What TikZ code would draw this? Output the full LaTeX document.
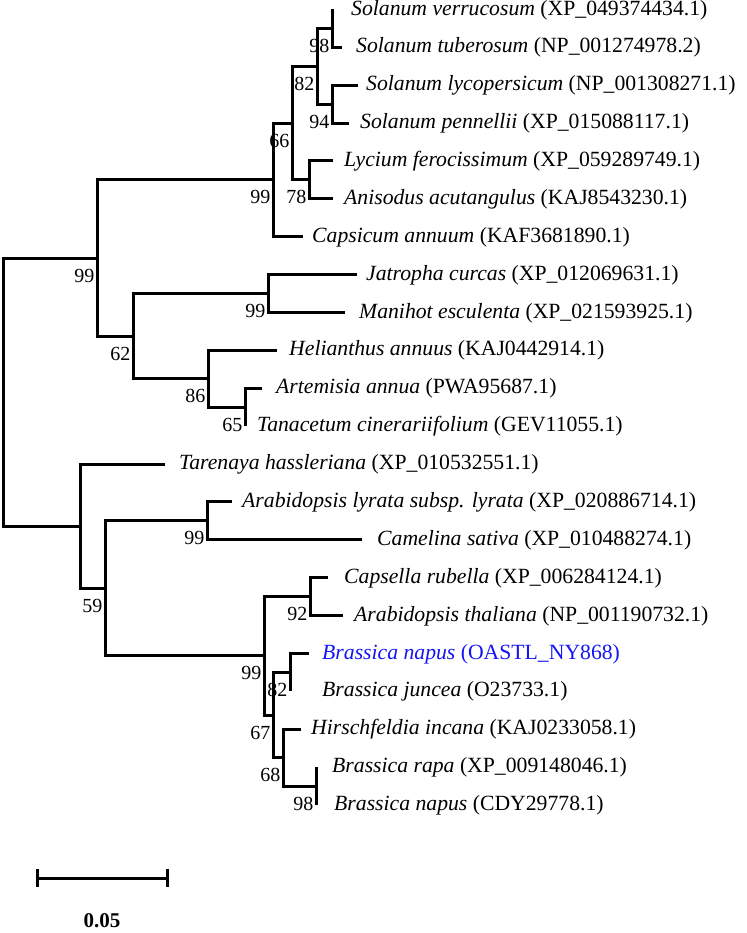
\documentclass[tikz,border=0pt]{standalone}
\usepackage{fontspec}
\setmainfont{Liberation Serif}
\definecolor{hiblue}{RGB}{20,20,245}
\begin{document}
\begin{tikzpicture}[x=1pt,y=-1pt,
  tree/.style={line width=3pt, line join=miter},
  leaf/.style={anchor=base west, inner sep=0pt, font=\fontsize{21.7}{26}\selectfont},
  boot/.style={anchor=base east, inner sep=0pt, font=\fontsize{20}{24}\selectfont},
  scalelab/.style={inner sep=0pt, font=\fontsize{21}{25}\selectfont\bfseries}]
\useasboundingbox (0,0) rectangle (746,933);
% leaf ends
\coordinate (l0) at (332,9.5);
\coordinate (l1) at (342,47.4);
\coordinate (l2) at (358,85.3);
\coordinate (l3) at (349,123.1);
\coordinate (l4) at (333,161.0);
\coordinate (l5) at (333,198.9);
\coordinate (l6) at (303,236.8);
\coordinate (l7) at (357,274.7);
\coordinate (l8) at (345,312.5);
\coordinate (l9) at (277,350.4);
\coordinate (l10) at (262,388.3);
\coordinate (l11) at (245,426.2);
\coordinate (l12) at (165,464.1);
\coordinate (l13) at (232,501.9);
\coordinate (l14) at (362,539.8);
\coordinate (l15) at (328,577.7);
\coordinate (l16) at (343,615.6);
\coordinate (l17) at (309,653.5);
\coordinate (l18) at (290,691.3);
\coordinate (l19) at (301,729.2);
\coordinate (l20) at (316,767.1);
\coordinate (l21) at (316,805.0);
% internal nodes
\coordinate (E) at (332,28.45);
\coordinate (F) at (332,104.2);
\coordinate (C) at (317,66.3);
\coordinate (D) at (309,180.0);
\coordinate (B) at (292,123.2);
\coordinate (S) at (273,180.0);
\coordinate (G) at (268,293.6);
\coordinate (I) at (245,407.3);
\coordinate (H) at (208,378.8);
\coordinate (M) at (133,336.2);
\coordinate (A) at (97,258.1);
\coordinate (O) at (207,520.9);
\coordinate (Q) at (310,596.7);
\coordinate (T) at (290,672.4);
\coordinate (V) at (316,786.1);
\coordinate (U) at (283,757.6);
\coordinate (R) at (273,715.0);
\coordinate (P) at (264,655.9);
\coordinate (N) at (105,588.4);
\coordinate (L) at (80,526.2);
\coordinate (root) at (3,392.2);
% branches
\draw[tree] (l0) -- (E) |- (l1);
\draw[tree] (l2) -| (F) |- (l3);
\draw[tree] (E) -| (C) |- (F);
\draw[tree] (l4) -| (D) |- (l5);
\draw[tree] (C) -| (B) |- (D);
\draw[tree] (B) -| (S) |- (l6);
\draw[tree] (l7) -| (G) |- (l8);
\draw[tree] (l10) -| (I) -- (l11);
\draw[tree] (l9) -| (H) |- (I);
\draw[tree] (G) -| (M) |- (H);
\draw[tree] (S) -| (A) |- (M);
\draw[tree] (l13) -| (O) |- (l14);
\draw[tree] (l15) -| (Q) |- (l16);
\draw[tree] (l17) -| (T) -- (l18);
\draw[tree] (l20) -- (V) -- (l21);
\draw[tree] (l19) -| (U) |- (V);
\draw[tree] (T) -| (R) |- (U);
\draw[tree] (Q) -| (P) |- (R);
\draw[tree] (O) -| (N) |- (P);
\draw[tree] (l12) -| (L) |- (N);
\draw[tree] (A) -| (root) |- (L);
% bootstrap values
\path (E) ++(-2.5,24) node[boot] (bE) {98};
\path (C) ++(-2.5,24) node[boot] (bC) {82};
\path (F) ++(-2.5,24) node[boot] (bF) {94};
\path (B) ++(-2.5,24) node[boot] (bB) {66};
\path (D) ++(-2.5,24) node[boot] (bD) {78};
\path (S) ++(-2.5,24) node[boot] (bS) {99};
\path (A) ++(-2.5,24) node[boot] (bA) {99};
\path (G) ++(-2.5,24) node[boot] (bG) {99};
\path (M) ++(-2.5,24) node[boot] (bM) {62};
\path (H) ++(-2.5,24) node[boot] (bH) {86};
\path (I) ++(-2.5,24) node[boot] (bI) {65};
\path (N) ++(-2.5,24) node[boot] (bN) {59};
\path (O) ++(-2.5,24) node[boot] (bO) {99};
\path (Q) ++(-2.5,24) node[boot] (bQ) {92};
\path (P) ++(-2.5,24) node[boot] (bP) {99};
\path (T) ++(-2.5,24) node[boot] (bT) {82};
\path (R) ++(-2.5,24) node[boot] (bR) {67};
\path (U) ++(-2.5,24) node[boot] (bU) {68};
\path (V) ++(-2.5,24) node[boot] (bV) {98};
% leaf labels
\node[leaf] (t0) at (351,16.0) {\textit{Solanum verrucosum} (XP\_049374434.1)};
\node[leaf] (t1) at (356,52.9) {\textit{Solanum tuberosum} (NP\_001274978.2)};
\node[leaf] (t2) at (366,90.8) {\textit{Solanum lycopersicum} (NP\_001308271.1)};
\node[leaf] (t3) at (360,128.6) {\textit{Solanum pennellii} (XP\_015088117.1)};
\node[leaf] (t4) at (344,166.5) {\textit{Lycium ferocissimum} (XP\_059289749.1)};
\node[leaf] (t5) at (344,204.4) {\textit{Anisodus acutangulus} (KAJ8543230.1)};
\node[leaf] (t6) at (312,242.3) {\textit{Capsicum annuum} (KAF3681890.1)};
\node[leaf] (t7) at (366,280.2) {\textit{Jatropha curcas} (XP\_012069631.1)};
\node[leaf] (t8) at (359,318.0) {\textit{Manihot esculenta} (XP\_021593925.1)};
\node[leaf] (t9) at (289,355.9) {\textit{Helianthus annuus} (KAJ0442914.1)};
\node[leaf] (t10) at (276,393.8) {\textit{Artemisia annua} (PWA95687.1)};
\node[leaf] (t11) at (257,431.7) {\textit{Tanacetum cinerariifolium} (GEV11055.1)};
\node[leaf] (t12) at (179,469.6) {\textit{Tarenaya hassleriana} (XP\_010532551.1)};
\node[leaf] (t13) at (242,507.4) {\textit{Arabidopsis lyrata subsp. lyrata} (XP\_020886714.1)};
\node[leaf] (t14) at (377,545.3) {\textit{Camelina sativa} (XP\_010488274.1)};
\node[leaf] (t15) at (344,583.2) {\textit{Capsella rubella} (XP\_006284124.1)};
\node[leaf] (t16) at (354,621.1) {\textit{Arabidopsis thaliana} (NP\_001190732.1)};
\node[leaf, text=hiblue] (t17) at (322,659.0) {\textit{Brassica napus} (OASTL\_NY868)};
\node[leaf] (t18) at (322,696.8) {\textit{Brassica juncea} (O23733.1)};
\node[leaf] (t19) at (311,734.7) {\textit{Hirschfeldia incana} (KAJ0233058.1)};
\node[leaf] (t20) at (332,772.6) {\textit{Brassica rapa} (XP\_009148046.1)};
\node[leaf] (t21) at (334,810.5) {\textit{Brassica napus} (CDY29778.1)};
% scale bar
\coordinate (sb1) at (37,878);
\coordinate (sb2) at (167,878);
\coordinate (sb1t) at (37,869);
\coordinate (sb1b) at (37,887);
\coordinate (sb2t) at (167,869);
\coordinate (sb2b) at (167,887);
\draw[tree] (sb1) -- (sb2);
\draw[tree] (sb1t) -- (sb1b);
\draw[tree] (sb2t) -- (sb2b);
\node[scalelab] (sbl) at (102,921) {0.05};
\end{tikzpicture}
\end{document}
